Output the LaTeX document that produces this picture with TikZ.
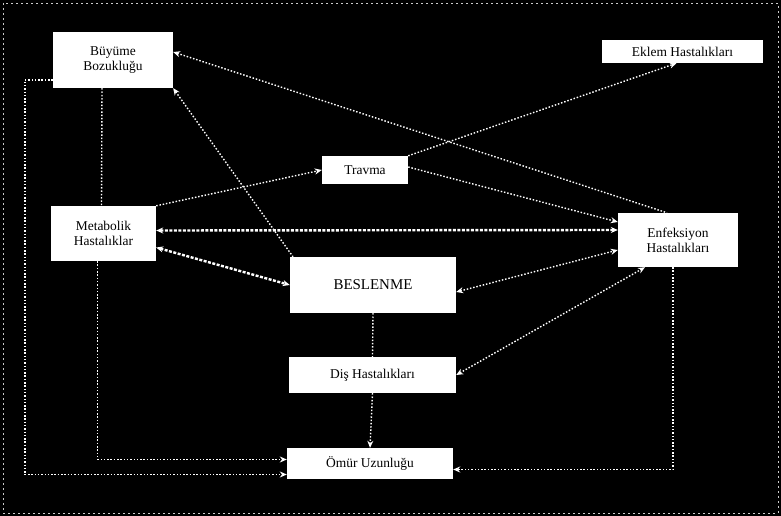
\documentclass[tikz,border=0pt]{standalone}
\usepackage{fontspec}
\setmainfont{Liberation Serif}
\usetikzlibrary{arrows.meta}

\begin{document}
\begin{tikzpicture}[x=1bp, y=-1bp,
  kutu/.style={fill=white, text=black, inner sep=0pt, align=center,
    font=\fontsize{13.5}{15}\selectfont},
  ok/.style={white, line width=1.4bp, dash pattern=on 1.5bp off 1.8bp},
  kalin/.style={white, line width=2.4bp, dash pattern=on 3bp off 1.5bp},
  >={Stealth[length=7bp, width=6bp]}]
  \useasboundingbox[fill=black] (0,0) rectangle (781,516);
  \draw[white!80!black, line width=0.8bp, dash pattern=on 2bp off 3bp] (3,3) rectangle (778,513);

  % Boxes
  \node[kutu, minimum width=120bp, minimum height=56bp] (buyume) at (113,60) {Büyüme\\Bozukluğu};
  \node[kutu, minimum width=161bp, minimum height=23bp] (eklem) at (682.5,51.5) {Eklem Hastalıkları};
  \node[kutu, minimum width=86bp, minimum height=28bp] (travma) at (365,170) {Travma};
  \node[kutu, minimum width=105bp, minimum height=55bp] (metabolik) at (103.5,233.5) {Metabolik\\Hastalıklar};
  \node[kutu, minimum width=120bp, minimum height=54bp] (enfeksiyon) at (678,240) {Enfeksiyon\\Hastalıkları};
  \node[kutu, minimum width=166bp, minimum height=56bp, font=\fontsize{15}{17}\selectfont] (beslenme) at (373,285) {BESLENME};
  \node[kutu, minimum width=167bp, minimum height=36bp] (dis) at (372.5,375) {Diş Hastalıkları};
  \node[kutu, minimum width=166bp, minimum height=31bp] (omur) at (370,463.5) {Ömür Uzunluğu};

  % Wires
  \draw[ok, <-] ([yshift=8bp]buyume.east) -- ([xshift=-11bp]enfeksiyon.north);
  \draw[ok, <-] (buyume.south east) -- ([xshift=-80bp]beslenme.north);
  \draw[ok] ([xshift=-11bp]buyume.south) -- ([xshift=-2bp]metabolik.north);
  \draw[ok, ->] ([yshift=-20bp]buyume.west) -- ++(-28,0) |- ([yshift=-11bp]omur.west);
  \draw[ok, ->] ([xshift=-6bp]metabolik.south) |- ([yshift=4bp]omur.west);
  \draw[ok, ->] (metabolik.north east) -- (travma.west);
  \draw[kalin, <->] ([yshift=3bp]metabolik.east) -- ([yshift=10bp]enfeksiyon.west);
  \draw[kalin, <->] ([yshift=-14bp]metabolik.east) -- (beslenme.west);
  \draw[ok, <->] ([yshift=-7bp]beslenme.east) -- ([yshift=-10bp]enfeksiyon.west);
  \draw[ok, <->] (dis.east) -- ([xshift=-33bp]enfeksiyon.south);
  \draw[ok, ->] (travma.north east) -- ([xshift=-6bp]eklem.south);
  \draw[ok, ->] ([yshift=3bp]travma.east) -- ([yshift=18bp]enfeksiyon.west);
  \draw[ok] (beslenme.south) -- (dis.north);
  \draw[ok, ->] (dis.south) -- (omur.north);
  \draw[ok, ->] ([xshift=-5bp]enfeksiyon.south) |- ([yshift=-6bp]omur.east);
\end{tikzpicture}
\end{document}
